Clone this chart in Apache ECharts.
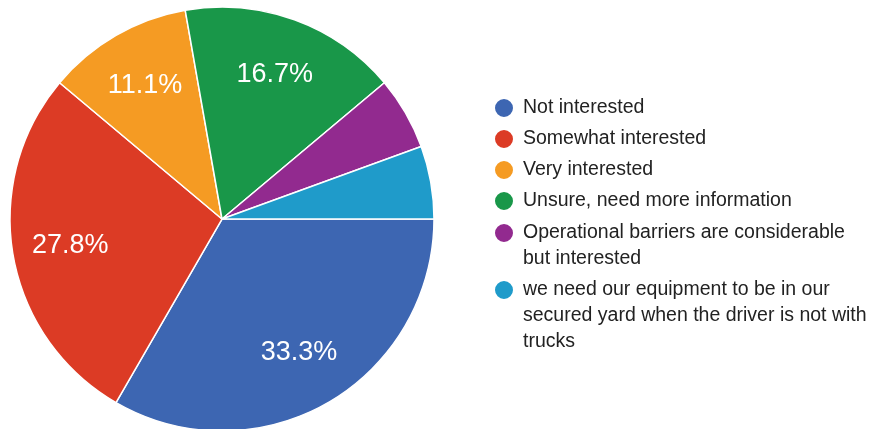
<!DOCTYPE html>
<html>
<head>
<meta charset="utf-8">
<style>
  html, body { margin: 0; padding: 0; background: #ffffff; }
  #chart { width: 874px; height: 429px; }
</style>
<script src="https://cdn.jsdelivr.net/npm/echarts@6/dist/echarts.min.js"></script>
</head>
<body>
<div id="chart"></div>
<script>
// Survey answers and response counts (18 responses)
const categories = [
  'Not interested',
  'Somewhat interested',
  'Very interested',
  'Unsure, need more information',
  'Operational barriers are considerable but interested',
  'we need our equipment to be in our secured yard when the driver is not with trucks'
];
const counts = [6, 5, 2, 3, 1, 1];
const colors = ['#3d66b2', '#dc3b25', '#f59b23', '#199749', '#922a8f', '#1f9bca'];

// slices smaller than this share get no percentage label
const minLabelShare = 0.08;

const total = counts.reduce((a, b) => a + b, 0);
const pieData = categories.map((name, i) => ({ name: name, value: counts[i] }));

const FONT = '"Liberation Sans", Arial, sans-serif';
const center = [222, 219];
const outerR = 212;

// Legend: one block per answer so that the marker sits beside the first
// line of a wrapped answer. lines = wrapped lines, iconY = marker centre.
const legendLineHeight = 26;
const legendRows = [
  { lines: 1, iconY: 108 },
  { lines: 1, iconY: 139 },
  { lines: 1, iconY: 170 },
  { lines: 1, iconY: 201 },
  { lines: 2, iconY: 233 },
  { lines: 3, iconY: 290 }
];

const legends = categories.map((name, i) => {
  const row = legendRows[i];
  const lead = row.lines - 1;               // blank lines above the text
  const boxH = (lead + row.lines) * legendLineHeight;
  return {
    orient: 'vertical',
    left: 493,
    top: row.iconY - boxH / 2,
    padding: 0,
    icon: 'circle',
    itemWidth: 28,
    itemHeight: 20,
    selectedMode: false,
    formatter: function (n) { return '\n'.repeat(lead) + n; },
    textStyle: {
      fontFamily: FONT,
      fontSize: 19.5,
      color: '#222222',
      lineHeight: legendLineHeight,
      width: 350,
      overflow: 'break'
    },
    data: [name]
  };
});

const chart = echarts.init(document.getElementById('chart'), null, { renderer: 'canvas' });
chart.setOption({
  animation: false,
  color: colors,
  textStyle: { fontFamily: FONT },
  legend: legends,
  series: [
    {
      type: 'pie',
      center: center,
      radius: [0, outerR],
      startAngle: 0,
      clockwise: true,
      avoidLabelOverlap: false,
      label: { show: false },
      labelLine: { show: false },
      itemStyle: { borderColor: '#ffffff', borderWidth: 1.5 },
      emphasis: { disabled: true },
      data: pieData
    },
    {
      // transparent ring that carries the percentage labels
      type: 'pie',
      center: center,
      radius: [90, outerR],
      startAngle: 0,
      clockwise: true,
      silent: true,
      avoidLabelOverlap: false,
      legendHoverLink: false,
      itemStyle: { color: 'rgba(0,0,0,0)', borderWidth: 0 },
      labelLine: { show: false },
      label: {
        show: true,
        position: 'inside',
        color: '#ffffff',
        fontSize: 27,
        fontFamily: FONT,
        formatter: function (p) {
          const share = p.value / total;
          return share < minLabelShare ? '' : (share * 100).toFixed(1) + '%';
        }
      },
      emphasis: { disabled: true },
      data: pieData.map(d => ({ name: d.name, value: d.value }))
    }
  ]
});
</script>
</body>
</html>
